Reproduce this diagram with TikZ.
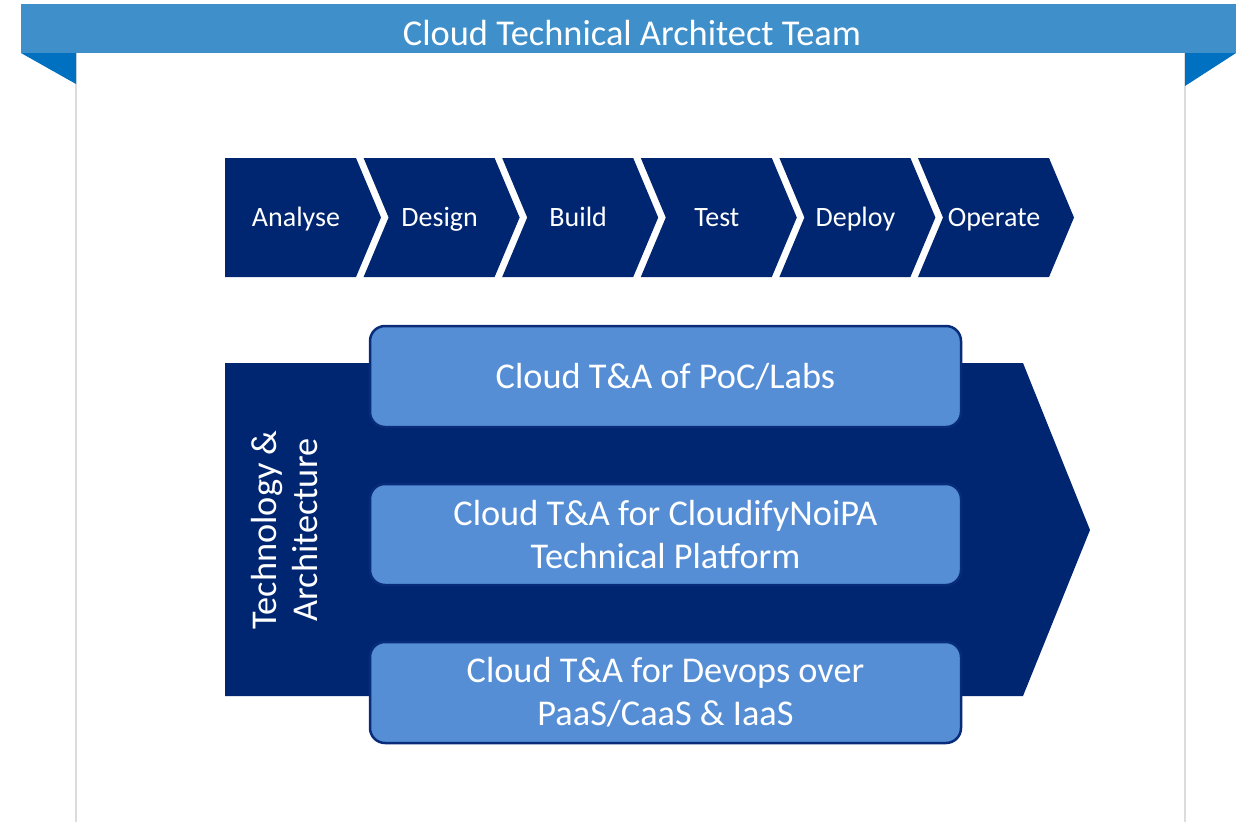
\documentclass[tikz,border=0pt]{standalone}
\usepackage{fontspec}
\setmainfont{Carlito}
\definecolor{banner}{HTML}{3F8FCB}
\definecolor{fold}{HTML}{0070C0}
\definecolor{navy}{HTML}{002672}
\definecolor{tile}{HTML}{558ED5}
\definecolor{tileedge}{HTML}{082C7A}
\definecolor{pageedge}{HTML}{DCDCDC}
\tikzset{
  phase/.style={text=white, font=\fontsize{28}{32}\selectfont, inner sep=0pt, anchor=base},
  tilebox/.style={rounded corners=15pt, fill=tile, draw=tileedge, line width=2.5pt,
    text=white, align=center, font=\fontsize{36.3}{43}\selectfont,
    minimum width=591, minimum height=101, inner sep=0pt},
}
\begin{document}
\begin{tikzpicture}[x=1pt,y=-1pt]
\useasboundingbox (0,0) rectangle (1246,822);
\fill[white] (0,0) rectangle (1246,822);
% page edges below the banner
\draw[pageedge, line width=1.5pt] (76,53) -- (76,822) (1185,53) -- (1185,822);
% title banner with folded ends
\fill[banner] (21,4) rectangle (1236,53);
\fill[fold] (21,53) -- (76,53) -- (76,84) -- cycle;
\fill[fold] (1236,53) -- (1185,53) -- (1185,86) -- cycle;
\node[text=white, font=\fontsize{36.4}{40}\selectfont] (title) at (632,32.5) {Cloud Technical Architect Team};
% process chevrons
\foreach \i/\lbl/\nm in {0/Analyse/analyse,1/Design/design,2/Build/build,3/Test/test,4/Deploy/deploy,5/Operate/operate} {
  \pgfmathsetmacro\x{225+138.6*\i}
  \pgfmathsetmacro\n{\i>0 ? 25 : 0}
  \fill[navy] (\x,158) -- (\x+131,158) -- (\x+156,217.5) -- (\x+131,277)
              -- (\x,277) -- (\x+\n,217.5) -- cycle;
  \node[phase] (\nm) at (\x+71+0.2*\n,226) {\lbl};
}
% technology & architecture arrow
\fill[navy] (225,363) -- (1023,363) -- (1090,530) -- (1023,696) -- (225,696) -- cycle;
\node[rotate=90, text=white, align=center, font=\fontsize{36.3}{41}\selectfont] (ta) at (285,530)
  {Technology \&\\Architecture};
% activity tiles
\node[tilebox] (poc) at (665.5,376.5) {Cloud T\&A of PoC/Labs};
\node[tilebox] (noipa) at (665.5,534.5) {Cloud T\&A for CloudifyNoiPA\\Technical Platform};
\node[tilebox] (devops) at (665.5,692.5) {Cloud T\&A for Devops over\\PaaS/CaaS \& IaaS};
\end{tikzpicture}
\end{document}
